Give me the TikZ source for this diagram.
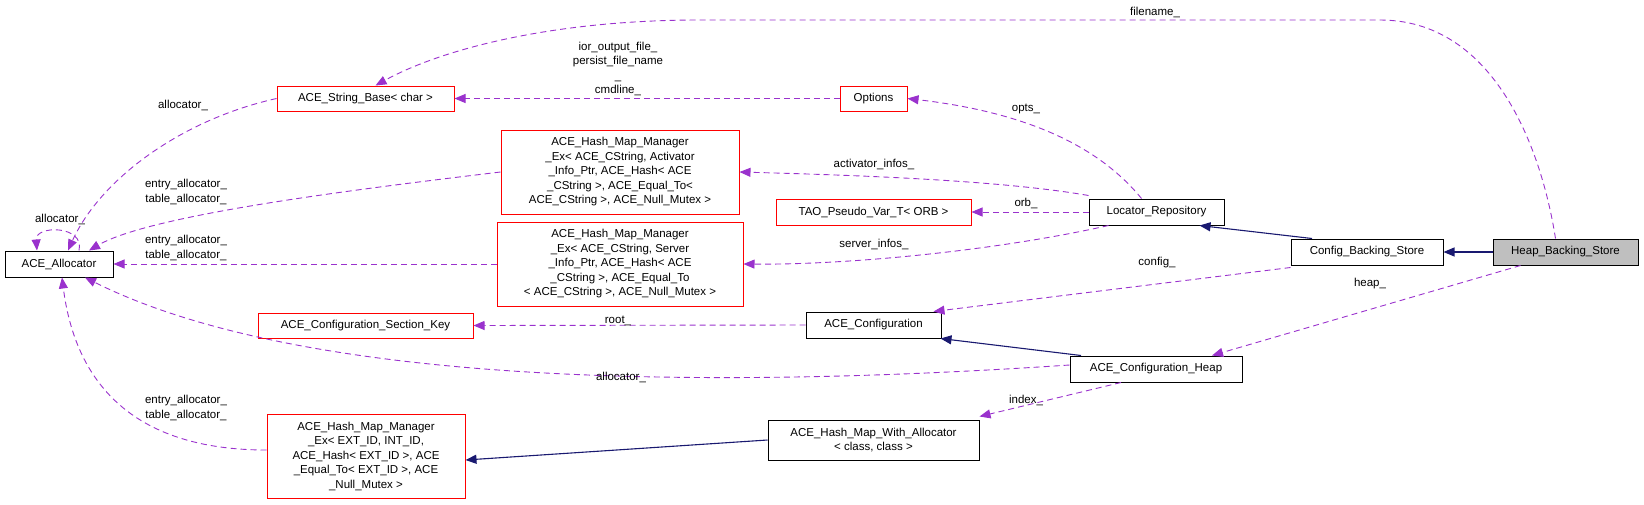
\documentclass[tikz,border=0pt]{standalone}
\usepackage{fontspec}
\setmainfont{Liberation Sans}
\usetikzlibrary{arrows.meta}
\definecolor{edgepurple}{HTML}{9A32CD}
\definecolor{edgenavy}{HTML}{191970}
\begin{document}
\begin{tikzpicture}[x=1pt,y=-1pt,font=\fontsize{11.5}{14.5}\selectfont,
    box/.style={draw=black,line width=1pt,inner sep=2pt,align=center},
    redbox/.style={box,draw=red},
    uses/.style={draw=edgepurple,dashed,dash pattern=on 6pt off 4pt,line width=0.9pt,-{Triangle[length=11pt,width=9pt]}},
    inherit/.style={draw=edgenavy,line width=1.1pt,-{Triangle[length=11pt,width=9pt]}},
    lbl/.style={inner sep=0pt,align=center}]
\path[use as bounding box] (0,0) rectangle (1644,504);

% classes
\node[box,minimum width=108pt,minimum height=26pt] (alloc) at (59,264) {ACE\_Allocator};
\node[redbox,minimum width=177pt,minimum height=25pt] (strbase) at (365.5,98.5) {ACE\_String\_Base\textless{} char \textgreater};
\node[redbox,minimum width=238pt,minimum height=84pt] (hmmact) at (620,172) {ACE\_Hash\_Map\_Manager\\\_Ex\textless{} ACE\_CString, Activator\\\_Info\_Ptr, ACE\_Hash\textless{} ACE\\\_CString \textgreater, ACE\_Equal\_To\textless\\ACE\_CString \textgreater, ACE\_Null\_Mutex \textgreater};
\node[redbox,minimum width=195pt,minimum height=26pt] (tao) at (873.5,212) {TAO\_Pseudo\_Var\_T\textless{} ORB \textgreater};
\node[redbox,minimum width=246pt,minimum height=84pt] (hmmsrv) at (620,264) {ACE\_Hash\_Map\_Manager\\\_Ex\textless{} ACE\_CString, Server\\\_Info\_Ptr, ACE\_Hash\textless{} ACE\\\_CString \textgreater, ACE\_Equal\_To\\\textless{} ACE\_CString \textgreater, ACE\_Null\_Mutex \textgreater};
\node[redbox,minimum width=215pt,minimum height=25pt] (seckey) at (365.5,325.5) {ACE\_Configuration\_Section\_Key};
\node[redbox,minimum width=198pt,minimum height=84pt] (hmmext) at (366,456) {ACE\_Hash\_Map\_Manager\\\_Ex\textless{} EXT\_ID, INT\_ID,\\ACE\_Hash\textless{} EXT\_ID \textgreater, ACE\\\_Equal\_To\textless{} EXT\_ID \textgreater, ACE\\\_Null\_Mutex \textgreater};
\node[box,minimum width=135pt,minimum height=26pt] (conf) at (873.5,325) {ACE\_Configuration};
\node[redbox,minimum width=67pt,minimum height=25pt] (opts) at (873.5,98.5) {Options};
\node[box,minimum width=135pt,minimum height=26pt] (locrep) at (1156.5,212) {Locator\_Repository};
\node[box,minimum width=152pt,minimum height=26pt] (cbs) at (1367,252) {Config\_Backing\_Store};
\node[box,fill=black!25,minimum width=145pt,minimum height=26pt] (hbs) at (1565.5,252) {Heap\_Backing\_Store};
\node[box,minimum width=172pt,minimum height=26pt] (confheap) at (1156,369) {ACE\_Configuration\_Heap};
\node[box,minimum width=211pt,minimum height=40pt] (hmwa) at (873.5,440) {ACE\_Hash\_Map\_With\_Allocator\\\textless{} class, class \textgreater};

% inheritance
\draw[inherit] (hbs) -- (cbs);
\draw[inherit] ([xshift=-55pt]cbs.north) -- ([xshift=43pt]locrep.south);
\draw[inherit] ([xshift=-75pt]confheap.north) -- ([xshift=67pt]conf.south);
\draw[inherit] (hmwa.west) -- ([yshift=-4pt]hmmext.east);

% members
\draw[uses] ([xshift=-10pt]hbs.north) .. controls (1540,140) and (1490,20) .. (1380,20)
  -- (700,20) .. controls (550,20) and (440,50) .. ([xshift=10pt]strbase.north);
\draw[uses] (opts) -- (strbase);
\draw[uses] ([xshift=-15pt]locrep.north) .. controls (1110,160) and (1050,115) .. (opts.east);
\draw[uses] ([yshift=3pt]locrep.north west) .. controls (1000,180) and (850,175) .. (hmmact.east);
\draw[uses] (locrep.west) -- (tao.east);
\draw[uses] ([xshift=20pt]locrep.south west) .. controls (1000,250) and (850,265) .. (hmmsrv.east);
\draw[uses] ([yshift=-2pt]cbs.south west) -- ([xshift=-8pt]conf.north east);
\draw[uses] ([xshift=-45pt]hbs.south) -- ([xshift=56pt]confheap.north);
\draw[uses] (conf.west) -- (seckey.east);
\draw[uses] ([xshift=-35pt]confheap.south) -- ([yshift=3pt]hmwa.north east);
\draw[uses] ([yshift=4pt]confheap.west) .. controls (700,390) and (300,385) .. ([xshift=26pt]alloc.south);
\draw[uses] ([yshift=6pt]hmmext.west) .. controls (130,450) and (75,380) .. ([xshift=3pt]alloc.south);
\draw[uses] (hmmsrv.west) -- (alloc.east);
\draw[uses] (hmmact.west) .. controls (350,190) and (150,215) .. ([xshift=30pt]alloc.north);
\draw[uses] (strbase.west) .. controls (180,120) and (100,180) .. ([xshift=9pt]alloc.north);
\draw[uses] ([xshift=20pt]alloc.north) .. controls (85,225) and (35,225) .. ([xshift=-22pt]alloc.north);

% labels
\node[lbl] (lfile) at (1155,12) {filename\_};
\node[lbl] (lcmd) at (618,69) {ior\_output\_file\_\\persist\_file\_name\\\_\\cmdline\_};
\node[lbl] (lalloca) at (183,105) {allocator\_};
\node[lbl] (lallocself) at (60,219) {allocator\_};
\node[lbl] (lentrya) at (186,192) {entry\_allocator\_\\table\_allocator\_};
\node[lbl] (lentryb) at (186,248) {entry\_allocator\_\\table\_allocator\_};
\node[lbl] (lentryc) at (186,408) {entry\_allocator\_\\table\_allocator\_};
\node[lbl] (lroot) at (618,321) {root\_};
\node[lbl] (lallocb) at (621,377) {allocator\_};
\node[lbl] (lopts) at (1026,109) {opts\_};
\node[lbl] (lact) at (874,164) {activator\_infos\_};
\node[lbl] (lorb) at (1026,203) {orb\_};
\node[lbl] (lsrv) at (874,244) {server\_infos\_};
\node[lbl] (lconf) at (1157,263) {config\_};
\node[lbl] (lheap) at (1370,284) {heap\_};
\node[lbl] (lindex) at (1026,400) {index\_};
\end{tikzpicture}
\end{document}
